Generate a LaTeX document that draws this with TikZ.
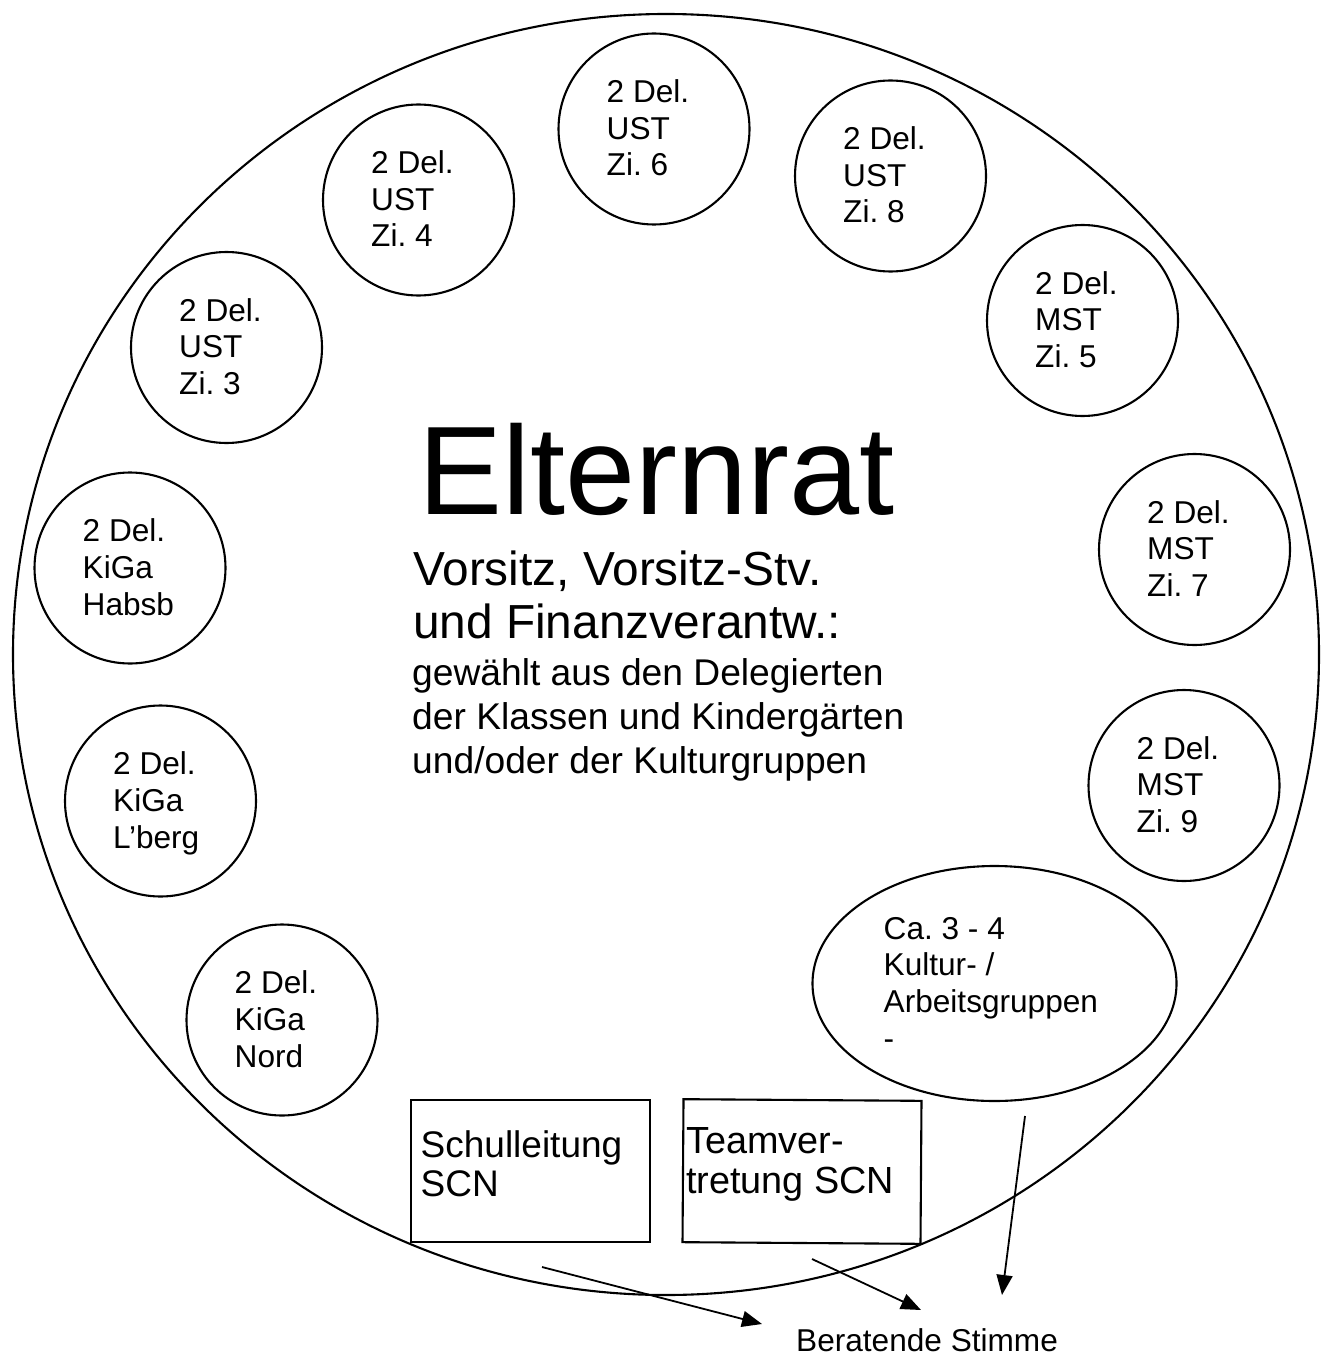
\documentclass[tikz,border=0pt]{standalone}
\usepackage{fontspec}
\setmainfont{Liberation Sans}
\frenchspacing
\usetikzlibrary{arrows.meta,calc,shapes.geometric}
\tikzset{
  delc/.style={circle, draw, line width=2.1pt, minimum size=191pt, inner sep=0pt},
  deltext/.style={anchor=north west, inner sep=0pt, align=left, font=\fontsize{31.6}{36.7}\selectfont},
  bigoval/.style={ellipse, draw, line width=2.1pt, inner sep=0pt},
  boxst/.style={rectangle, draw, line width=2.1pt, inner sep=0pt},
  nwtext/.style={anchor=north west, inner sep=0pt, align=left},
  arr/.style={line width=1.8pt, -{Triangle[length=20pt 0,width=16pt 0]}}
}
\newcommand\delcirc[4]{%
  \node[delc] (#1) at (#2,#3) {};
  \node[deltext] (#1-t) at ($(#1.center)+(-47.5,-49.5)$) {#4};}
\begin{document}
\begin{tikzpicture}[x=1pt,y=-1pt]
  \fill[white] (0,0) rectangle (1326,1356);
  \useasboundingbox (0,0) rectangle (1326,1356);

  % outer ellipse
  \node[bigoval, minimum width=1306pt, minimum height=1281pt] (rat) at (666,654.5) {};

  % delegate circles
  \delcirc{z6}{654}{129}{2 Del.\\UST\\Zi. 6}
  \delcirc{z8}{890.5}{176}{2 Del.\\UST\\Zi. 8}
  \delcirc{z4}{418.5}{200}{2 Del.\\UST\\Zi. 4}
  \delcirc{z5}{1082.5}{320.5}{2 Del.\\MST\\Zi. 5}
  \delcirc{z3}{226.5}{347.5}{2 Del.\\UST\\Zi. 3}
  \delcirc{z7}{1194.5}{549.5}{2 Del.\\MST\\Zi. 7}
  \delcirc{habsb}{130}{568}{2 Del.\\KiGa\\Habsb}
  \delcirc{z9}{1184}{785.5}{2 Del.\\MST\\Zi. 9}
  \delcirc{lberg}{160.5}{801}{2 Del.\\KiGa\\L’berg}
  \delcirc{nord}{282}{1020}{2 Del.\\KiGa\\Nord}

  % Kultur ellipse
  \node[bigoval, minimum width=364pt, minimum height=235pt] (kultur) at (994.5,983.5) {};
  \node[deltext] (kultur-t) at (883.5,917) {Ca. 3 - 4\\Kultur- /\\Arbeitsgruppen\\-};

  % centre texts
  \node[nwtext, font=\fontsize{126}{150}\selectfont] (title) at (418,423) {Elternrat};
  \node[nwtext, font=\fontsize{47.8}{53}\selectfont] (vors) at (413,550.5)
    {Vorsitz, Vorsitz-Stv.\\und Finanzverantw.:};
  \node[nwtext, font=\fontsize{37.2}{44}\selectfont] (gew) at (412,658.5)
    {gewählt aus den Delegierten\\der Klassen und Kindergärten\\und/oder der Kulturgruppen};

  % boxes
  \node[boxst, minimum width=239pt, minimum height=142pt] (schul) at (530.5,1171) {};
  \node[nwtext, font=\fontsize{37}{39}\selectfont] (schul-t) at (420.5,1130) {Schulleitung\\SCN};
  \node[boxst, minimum width=238pt, minimum height=143pt, rotate=-0.4] (team) at (802,1171.5) {};
  \node[nwtext, font=\fontsize{37.8}{40}\selectfont] (team-t) at (686,1127.5) {Teamver-\\tretung SCN};

  % advisory vote
  \node[nwtext, font=\fontsize{31.6}{36}\selectfont] (berat) at (796,1328) {Beratende Stimme};

  \coordinate (s1) at (542,1267);
  \coordinate (e1) at (762,1324);
  \coordinate (s2) at (812,1259);
  \coordinate (e2) at (921,1310);
  \coordinate (s3) at (1025,1116);
  \coordinate (e3) at (1002,1295);
  \draw[arr] (s1) -- (e1);
  \draw[arr] (s2) -- (e2);
  \draw[arr] (s3) -- (e3);
\end{tikzpicture}
\end{document}
